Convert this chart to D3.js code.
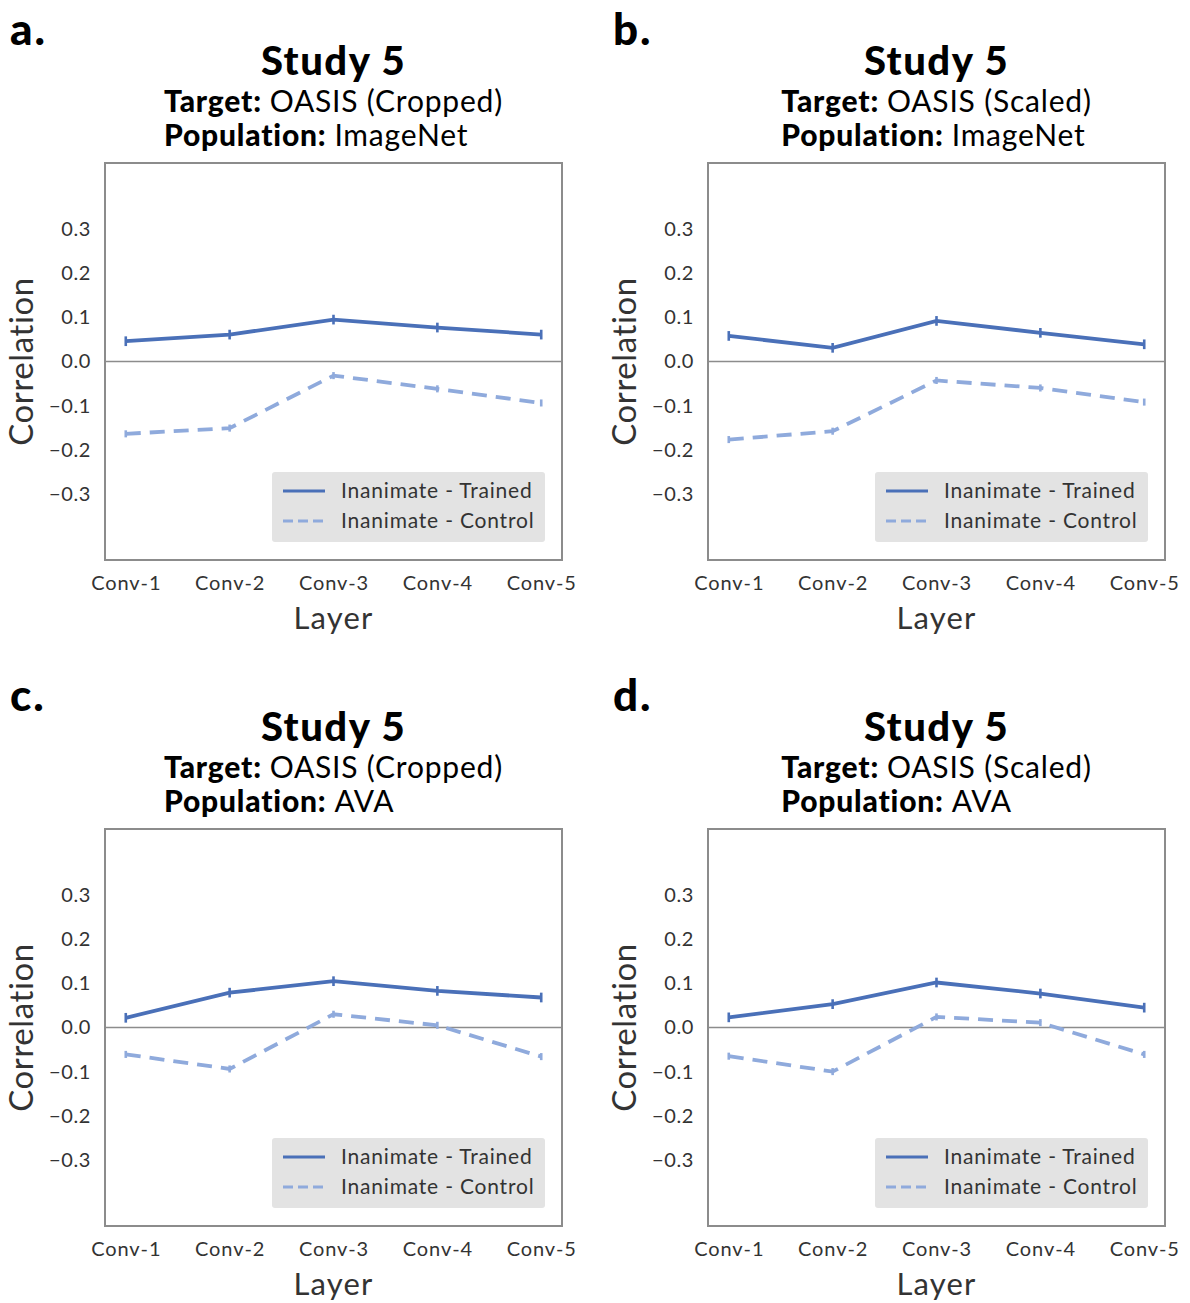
<!DOCTYPE html>
<html>
<head>
    <meta charset="utf-8">
    <title>Study 5</title>
    <script src="https://cdn.jsdelivr.net/npm/d3@7/dist/d3.min.js"></script>
    <style>
        body { margin: 0; background: white; }
        text { font-family: Lato, "Open Sans", sans-serif; }
    </style>
</head>
<body>
    <svg width="1190" height="1303"></svg>
    <script>
        // data
        const layers = ['Conv-1', 'Conv-2', 'Conv-3', 'Conv-4', 'Conv-5'];
        const yTicks = [-0.3, -0.2, -0.1, 0.0, 0.1, 0.2, 0.3];

        const panelLetters = ['a.', 'b.', 'c.', 'd.'];
        const targets = ['OASIS (Cropped)', 'OASIS (Scaled)', 'OASIS (Cropped)', 'OASIS (Scaled)'];
        const populations = ['ImageNet', 'ImageNet', 'AVA', 'AVA'];

        const trainedA = [0.046, 0.061, 0.095, 0.077, 0.061];
        const controlA = [-0.164, -0.151, -0.032, -0.062, -0.094];
        const trainedB = [0.058, 0.031, 0.092, 0.065, 0.039];
        const controlB = [-0.177, -0.158, -0.043, -0.060, -0.092];
        const trainedC = [0.022, 0.079, 0.105, 0.083, 0.068];
        const controlC = [-0.061, -0.094, 0.030, 0.005, -0.066];
        const trainedD = [0.023, 0.053, 0.102, 0.077, 0.045];
        const controlD = [-0.065, -0.100, 0.024, 0.011, -0.061];
        const errTrained = [0.011, 0.011, 0.011, 0.011, 0.011];
        const errControl = [0.008, 0.008, 0.008, 0.008, 0.008];

        const trainedSeries = [trainedA, trainedB, trainedC, trainedD];
        const controlSeries = [controlA, controlB, controlC, controlD];
        const legendLabels = ['Inanimate - Trained', 'Inanimate - Control'];

        const trainedColor = '#4a70b8';
        const controlColor = '#8faadc';

        const svg = d3.select('svg');

        const boxW = 457, boxH = 397;
        const origins = [[105, 163], [708, 163], [105, 829], [708, 829]];

        const x = d3.scaleLinear().domain([-0.2, 4.2]).range([0, boxW]);
        const y = d3.scaleLinear().domain([-0.45, 0.45]).range([boxH, 0]);

        origins.forEach(function (o, i) {
            const g = svg.append('g').attr('transform', `translate(${o[0]},${o[1]})`);

            // panel letter
            svg.append('text')
                .attr('x', o[0] - 95).attr('y', o[1] - 118)
                .style('font-size', '44px').style('font-weight', 900)
                .style('letter-spacing', '2px')
                .text(panelLetters[i]);

            // titles
            g.append('text')
                .attr('x', boxW / 2).attr('y', -88)
                .attr('text-anchor', 'middle')
                .style('font-size', '40px').style('font-weight', 900)
                .style('letter-spacing', '1.5px')
                .text('Study 5');

            const sub = g.append('g').style('letter-spacing', '0.8px');
            const t1 = sub.append('text').attr('y', -51).style('font-size', '30px');
            t1.append('tspan').style('font-weight', 900).text('Target: ');
            t1.append('tspan').text(targets[i]);
            const t2 = sub.append('text').attr('y', -17).style('font-size', '30px');
            t2.append('tspan').style('font-weight', 900).text('Population: ');
            t2.append('tspan').text(populations[i]);
            const maxW = Math.max(t1.node().getComputedTextLength(), t2.node().getComputedTextLength());
            sub.attr('transform', `translate(${boxW / 2 - maxW / 2},0)`);

            // zero line
            g.append('line')
                .attr('x1', 0).attr('x2', boxW)
                .attr('y1', y(0)).attr('y2', y(0))
                .attr('stroke', '#8c8c8c').attr('stroke-width', 1.6);

            // y axis labels
            const yAxis = d3.axisLeft(y).tickValues(yTicks).tickSize(0).tickPadding(14)
                .tickFormat(d => d3.format('.1f')(d).replace('-', '\u2212'));
            const ya = g.append('g').call(yAxis);
            ya.select('.domain').remove();
            ya.selectAll('text').style('font-size', '20px').attr('fill', '#333')
                .style('font-family', 'Lato, sans-serif').style('letter-spacing', '0.6px');

            // x axis labels
            const xAxis = d3.axisBottom(x).tickValues(d3.range(layers.length))
                .tickFormat(d => layers[d]).tickSize(0).tickPadding(16);
            const xa = g.append('g').attr('transform', `translate(0,${boxH})`).call(xAxis);
            xa.select('.domain').remove();
            xa.selectAll('text').style('font-size', '20px').attr('fill', '#333')
                .style('font-family', 'Lato, sans-serif').style('letter-spacing', '0.9px');

            // axis titles
            g.append('text')
                .attr('x', boxW / 2).attr('y', boxH + 69)
                .attr('text-anchor', 'middle')
                .style('font-size', '31px').attr('fill', '#333')
                .style('letter-spacing', '1.2px')
                .text('Layer');
            g.append('text')
                .attr('transform', `translate(-72,${y(0)}) rotate(-90)`)
                .attr('text-anchor', 'middle')
                .style('font-size', '33px').attr('fill', '#333')
                .style('letter-spacing', '0.6px')
                .text('Correlation');

            // series
            const line = d3.line().x((d, j) => x(j)).y(d => y(d));
            const series = [
                { vals: controlSeries[i], err: errControl, color: controlColor, dash: '15,9' },
                { vals: trainedSeries[i], err: errTrained, color: trainedColor, dash: null }
            ];
            series.forEach(function (s) {
                g.append('path')
                    .datum(s.vals)
                    .attr('d', line)
                    .attr('fill', 'none')
                    .attr('stroke', s.color)
                    .attr('stroke-width', 3.8)
                    .attr('stroke-dasharray', s.dash);
                g.selectAll(null)
                    .data(s.vals)
                    .enter().append('line')
                    .attr('x1', (d, j) => x(j)).attr('x2', (d, j) => x(j))
                    .attr('y1', (d, j) => y(d - s.err[j]))
                    .attr('y2', (d, j) => y(d + s.err[j]))
                    .attr('stroke', s.color).attr('stroke-width', 2.6);
            });

            // frame
            g.append('rect')
                .attr('width', boxW).attr('height', boxH)
                .attr('fill', 'none').attr('stroke', '#8c8c8c').attr('stroke-width', 2);

            // legend
            const lg = g.append('g').attr('transform', `translate(${boxW - 290},${boxH - 88})`);
            lg.append('rect')
                .attr('width', 273).attr('height', 70).attr('rx', 3)
                .attr('fill', '#e3e3e3');
            legendLabels.forEach(function (lab, k) {
                const yy = 19 + k * 30;
                lg.append('line')
                    .attr('x1', 11).attr('x2', 53)
                    .attr('y1', yy).attr('y2', yy)
                    .attr('stroke', k === 0 ? trainedColor : controlColor)
                    .attr('stroke-width', 3.2)
                    .attr('stroke-dasharray', k === 0 ? null : '10,5');
                lg.append('text')
                    .attr('x', 69).attr('y', yy + 7)
                    .style('font-size', '21px').attr('fill', '#333')
                    .style('letter-spacing', '0.8px')
                    .text(lab);
            });
        });
    </script>
</body>
</html>
